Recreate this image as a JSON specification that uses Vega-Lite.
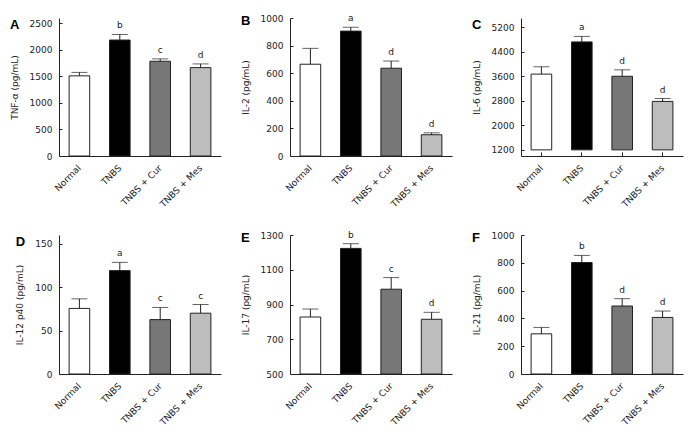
{
  "$schema": "https://vega.github.io/schema/vega-lite/v6.json",
  "background": "white",
  "padding": {"left": 10, "top": 14, "right": 5, "bottom": 5},
  "config": {
    "view": {"stroke": null},
    "font": "DejaVu Sans",
    "axis": {"domainColor": "#222", "tickColor": "#222", "labelColor": "#222", "titleColor": "#222", "labelFont": "DejaVu Sans", "titleFont": "DejaVu Sans", "labelFontSize": 9, "titleFontSize": 9, "titleFontWeight": "normal", "grid": false},
    "axisY": {"tickSize": -3, "labelPadding": 10, "titlePadding": 10, "labelOverlap": false, "format": "d"},
    "axisX": {"tickSize": -4, "labelPadding": 14, "labelAngle": -45, "labelAlign": "right", "labelBaseline": "middle", "title": null},
    "title": {"anchor": "start", "frame": "bounds", "fontSize": 13, "fontWeight": "bold", "font": "Liberation Sans", "color": "#000", "baseline": "top", "offset": -14},
    "text": {"font": "DejaVu Sans", "fontSize": 9, "color": "#222"},
    "concat": {"spacing": 20}
  },
  "datasets": {
    "d": [
      {"panel": "A", "group": "Normal", "mean": 1510, "upper": 1575, "letter": ""},
      {"panel": "A", "group": "TNBS", "mean": 2185, "upper": 2290, "letter": "b"},
      {"panel": "A", "group": "TNBS + Cur", "mean": 1785, "upper": 1830, "letter": "c"},
      {"panel": "A", "group": "TNBS + Mes", "mean": 1665, "upper": 1735, "letter": "d"},
      {"panel": "B", "group": "Normal", "mean": 665, "upper": 780, "letter": ""},
      {"panel": "B", "group": "TNBS", "mean": 905, "upper": 933, "letter": "a"},
      {"panel": "B", "group": "TNBS + Cur", "mean": 636, "upper": 688, "letter": "d"},
      {"panel": "B", "group": "TNBS + Mes", "mean": 154, "upper": 168, "letter": "d"},
      {"panel": "C", "group": "Normal", "mean": 3670, "upper": 3910, "letter": ""},
      {"panel": "C", "group": "TNBS", "mean": 4720, "upper": 4900, "letter": "a"},
      {"panel": "C", "group": "TNBS + Cur", "mean": 3600, "upper": 3810, "letter": "d"},
      {"panel": "C", "group": "TNBS + Mes", "mean": 2780, "upper": 2875, "letter": "d"},
      {"panel": "D", "group": "Normal", "mean": 75.5, "upper": 86.5, "letter": ""},
      {"panel": "D", "group": "TNBS", "mean": 119, "upper": 128.5, "letter": "a"},
      {"panel": "D", "group": "TNBS + Cur", "mean": 62.6, "upper": 76.6, "letter": "c"},
      {"panel": "D", "group": "TNBS + Mes", "mean": 70, "upper": 80, "letter": "c"},
      {"panel": "E", "group": "Normal", "mean": 828, "upper": 874, "letter": ""},
      {"panel": "E", "group": "TNBS", "mean": 1223, "upper": 1250, "letter": "b"},
      {"panel": "E", "group": "TNBS + Cur", "mean": 988, "upper": 1055, "letter": "c"},
      {"panel": "E", "group": "TNBS + Mes", "mean": 815, "upper": 855, "letter": "d"},
      {"panel": "F", "group": "Normal", "mean": 289, "upper": 335, "letter": ""},
      {"panel": "F", "group": "TNBS", "mean": 802, "upper": 853, "letter": "b"},
      {"panel": "F", "group": "TNBS + Cur", "mean": 489, "upper": 542, "letter": "d"},
      {"panel": "F", "group": "TNBS + Mes", "mean": 407, "upper": 453, "letter": "d"}
    ]
  },
  "spacing": 21,
  "vconcat": [
    {
      "hconcat": [
        {
          "width": 162, "height": 138,
          "title": "A",
          "data": {"name": "d"},
          "transform": [{"filter": "datum.panel === 'A'"}],
          "encoding": {"x": {"field": "group", "type": "nominal", "sort": ["Normal", "TNBS", "TNBS + Cur", "TNBS + Mes"], "scale": {"paddingInner": 0.49, "paddingOuter": 0.25}}},
          "layer": [
            {"mark": {"type": "bar", "stroke": "#222", "strokeWidth": 1},
             "encoding": {"y": {"field": "mean", "type": "quantitative", "scale": {"domain": [0, 2500]}, "axis": {"values": [0, 500, 1000, 1500, 2000, 2500], "title": "TNF-α (pg/mL)"}},
                          "fill": {"field": "group", "type": "nominal", "scale": {"domain": ["Normal", "TNBS", "TNBS + Cur", "TNBS + Mes"], "range": ["#ffffff", "#000000", "#777777", "#bdbdbd"]}, "legend": null}}},
            {"mark": {"type": "rule", "color": "#222"}, "encoding": {"y": {"field": "mean", "type": "quantitative", "axis": {"values": [0, 500, 1000, 1500, 2000, 2500], "title": "TNF-α (pg/mL)"}}, "y2": {"field": "upper"}}},
            {"mark": {"type": "tick", "color": "#222", "size": 16, "thickness": 1, "orient": "horizontal"}, "encoding": {"y": {"field": "upper", "type": "quantitative", "axis": {"values": [0, 500, 1000, 1500, 2000, 2500], "title": "TNF-α (pg/mL)"}}}},
            {"mark": {"type": "text", "baseline": "bottom", "dy": -4}, "encoding": {"y": {"field": "upper", "type": "quantitative", "axis": {"values": [0, 500, 1000, 1500, 2000, 2500], "title": "TNF-α (pg/mL)"}}, "text": {"field": "letter"}}}
          ]
        },
        {
          "width": 162, "height": 138,
          "title": "B",
          "data": {"name": "d"},
          "transform": [{"filter": "datum.panel === 'B'"}],
          "encoding": {"x": {"field": "group", "type": "nominal", "sort": ["Normal", "TNBS", "TNBS + Cur", "TNBS + Mes"], "scale": {"paddingInner": 0.49, "paddingOuter": 0.25}}},
          "layer": [
            {"mark": {"type": "bar", "stroke": "#222", "strokeWidth": 1},
             "encoding": {"y": {"field": "mean", "type": "quantitative", "scale": {"domain": [0, 1000]}, "axis": {"values": [0, 200, 400, 600, 800, 1000], "title": "IL-2 (pg/mL)"}},
                          "fill": {"field": "group", "type": "nominal", "scale": {"domain": ["Normal", "TNBS", "TNBS + Cur", "TNBS + Mes"], "range": ["#ffffff", "#000000", "#777777", "#bdbdbd"]}, "legend": null}}},
            {"mark": {"type": "rule", "color": "#222"}, "encoding": {"y": {"field": "mean", "type": "quantitative", "axis": {"values": [0, 200, 400, 600, 800, 1000], "title": "IL-2 (pg/mL)"}}, "y2": {"field": "upper"}}},
            {"mark": {"type": "tick", "color": "#222", "size": 16, "thickness": 1, "orient": "horizontal"}, "encoding": {"y": {"field": "upper", "type": "quantitative", "axis": {"values": [0, 200, 400, 600, 800, 1000], "title": "IL-2 (pg/mL)"}}}},
            {"mark": {"type": "text", "baseline": "bottom", "dy": -4}, "encoding": {"y": {"field": "upper", "type": "quantitative", "axis": {"values": [0, 200, 400, 600, 800, 1000], "title": "IL-2 (pg/mL)"}}, "text": {"field": "letter"}}}
          ]
        },
        {
          "width": 162, "height": 138,
          "title": "C",
          "data": {"name": "d"},
          "transform": [{"filter": "datum.panel === 'C'"}],
          "encoding": {"x": {"field": "group", "type": "nominal", "sort": ["Normal", "TNBS", "TNBS + Cur", "TNBS + Mes"], "scale": {"paddingInner": 0.49, "paddingOuter": 0.25}}},
          "layer": [
            {"mark": {"type": "bar", "stroke": "#222", "strokeWidth": 1},
             "encoding": {"y": {"field": "mean", "type": "quantitative", "scale": {"domain": [1200, 5200], "zero": false}, "axis": {"values": [1200, 2000, 2800, 3600, 4400, 5200], "title": "IL-6 (pg/mL)"}},
                          "y2": {"datum": 1200},
                          "fill": {"field": "group", "type": "nominal", "scale": {"domain": ["Normal", "TNBS", "TNBS + Cur", "TNBS + Mes"], "range": ["#ffffff", "#000000", "#777777", "#bdbdbd"]}, "legend": null}}},
            {"mark": {"type": "rule", "color": "#222"}, "encoding": {"y": {"field": "mean", "type": "quantitative", "axis": {"values": [1200, 2000, 2800, 3600, 4400, 5200], "title": "IL-6 (pg/mL)"}}, "y2": {"field": "upper"}}},
            {"mark": {"type": "tick", "color": "#222", "size": 16, "thickness": 1, "orient": "horizontal"}, "encoding": {"y": {"field": "upper", "type": "quantitative", "axis": {"values": [1200, 2000, 2800, 3600, 4400, 5200], "title": "IL-6 (pg/mL)"}}}},
            {"mark": {"type": "text", "baseline": "bottom", "dy": -4}, "encoding": {"y": {"field": "upper", "type": "quantitative", "axis": {"values": [1200, 2000, 2800, 3600, 4400, 5200], "title": "IL-6 (pg/mL)"}}, "text": {"field": "letter"}}}
          ]
        }
      ]
    },
    {
      "hconcat": [
        {
          "width": 162, "height": 139,
          "title": "D",
          "data": {"name": "d"},
          "transform": [{"filter": "datum.panel === 'D'"}],
          "encoding": {"x": {"field": "group", "type": "nominal", "sort": ["Normal", "TNBS", "TNBS + Cur", "TNBS + Mes"], "scale": {"paddingInner": 0.49, "paddingOuter": 0.25}}},
          "layer": [
            {"mark": {"type": "bar", "stroke": "#222", "strokeWidth": 1},
             "encoding": {"y": {"field": "mean", "type": "quantitative", "scale": {"domain": [0, 150]}, "axis": {"values": [0, 50, 100, 150], "title": "IL-12 p40 (pg/mL)"}},
                          "fill": {"field": "group", "type": "nominal", "scale": {"domain": ["Normal", "TNBS", "TNBS + Cur", "TNBS + Mes"], "range": ["#ffffff", "#000000", "#777777", "#bdbdbd"]}, "legend": null}}},
            {"mark": {"type": "rule", "color": "#222"}, "encoding": {"y": {"field": "mean", "type": "quantitative", "axis": {"values": [0, 50, 100, 150], "title": "IL-12 p40 (pg/mL)"}}, "y2": {"field": "upper"}}},
            {"mark": {"type": "tick", "color": "#222", "size": 16, "thickness": 1, "orient": "horizontal"}, "encoding": {"y": {"field": "upper", "type": "quantitative", "axis": {"values": [0, 50, 100, 150], "title": "IL-12 p40 (pg/mL)"}}}},
            {"mark": {"type": "text", "baseline": "bottom", "dy": -4}, "encoding": {"y": {"field": "upper", "type": "quantitative", "axis": {"values": [0, 50, 100, 150], "title": "IL-12 p40 (pg/mL)"}}, "text": {"field": "letter"}}}
          ]
        },
        {
          "width": 162, "height": 139,
          "title": "E",
          "data": {"name": "d"},
          "transform": [{"filter": "datum.panel === 'E'"}],
          "encoding": {"x": {"field": "group", "type": "nominal", "sort": ["Normal", "TNBS", "TNBS + Cur", "TNBS + Mes"], "scale": {"paddingInner": 0.49, "paddingOuter": 0.25}}},
          "layer": [
            {"mark": {"type": "bar", "stroke": "#222", "strokeWidth": 1},
             "encoding": {"y": {"field": "mean", "type": "quantitative", "scale": {"domain": [500, 1300], "zero": false}, "axis": {"values": [500, 700, 900, 1100, 1300], "title": "IL-17 (pg/mL)"}},
                          "y2": {"datum": 500},
                          "fill": {"field": "group", "type": "nominal", "scale": {"domain": ["Normal", "TNBS", "TNBS + Cur", "TNBS + Mes"], "range": ["#ffffff", "#000000", "#777777", "#bdbdbd"]}, "legend": null}}},
            {"mark": {"type": "rule", "color": "#222"}, "encoding": {"y": {"field": "mean", "type": "quantitative", "axis": {"values": [500, 700, 900, 1100, 1300], "title": "IL-17 (pg/mL)"}}, "y2": {"field": "upper"}}},
            {"mark": {"type": "tick", "color": "#222", "size": 16, "thickness": 1, "orient": "horizontal"}, "encoding": {"y": {"field": "upper", "type": "quantitative", "axis": {"values": [500, 700, 900, 1100, 1300], "title": "IL-17 (pg/mL)"}}}},
            {"mark": {"type": "text", "baseline": "bottom", "dy": -4}, "encoding": {"y": {"field": "upper", "type": "quantitative", "axis": {"values": [500, 700, 900, 1100, 1300], "title": "IL-17 (pg/mL)"}}, "text": {"field": "letter"}}}
          ]
        },
        {
          "width": 162, "height": 139,
          "title": "F",
          "data": {"name": "d"},
          "transform": [{"filter": "datum.panel === 'F'"}],
          "encoding": {"x": {"field": "group", "type": "nominal", "sort": ["Normal", "TNBS", "TNBS + Cur", "TNBS + Mes"], "scale": {"paddingInner": 0.49, "paddingOuter": 0.25}}},
          "layer": [
            {"mark": {"type": "bar", "stroke": "#222", "strokeWidth": 1},
             "encoding": {"y": {"field": "mean", "type": "quantitative", "scale": {"domain": [0, 1000]}, "axis": {"values": [0, 200, 400, 600, 800, 1000], "title": "IL-21 (pg/mL)"}},
                          "fill": {"field": "group", "type": "nominal", "scale": {"domain": ["Normal", "TNBS", "TNBS + Cur", "TNBS + Mes"], "range": ["#ffffff", "#000000", "#777777", "#bdbdbd"]}, "legend": null}}},
            {"mark": {"type": "rule", "color": "#222"}, "encoding": {"y": {"field": "mean", "type": "quantitative", "axis": {"values": [0, 200, 400, 600, 800, 1000], "title": "IL-21 (pg/mL)"}}, "y2": {"field": "upper"}}},
            {"mark": {"type": "tick", "color": "#222", "size": 16, "thickness": 1, "orient": "horizontal"}, "encoding": {"y": {"field": "upper", "type": "quantitative", "axis": {"values": [0, 200, 400, 600, 800, 1000], "title": "IL-21 (pg/mL)"}}}},
            {"mark": {"type": "text", "baseline": "bottom", "dy": -4}, "encoding": {"y": {"field": "upper", "type": "quantitative", "axis": {"values": [0, 200, 400, 600, 800, 1000], "title": "IL-21 (pg/mL)"}}, "text": {"field": "letter"}}}
          ]
        }
      ]
    }
  ]
}
